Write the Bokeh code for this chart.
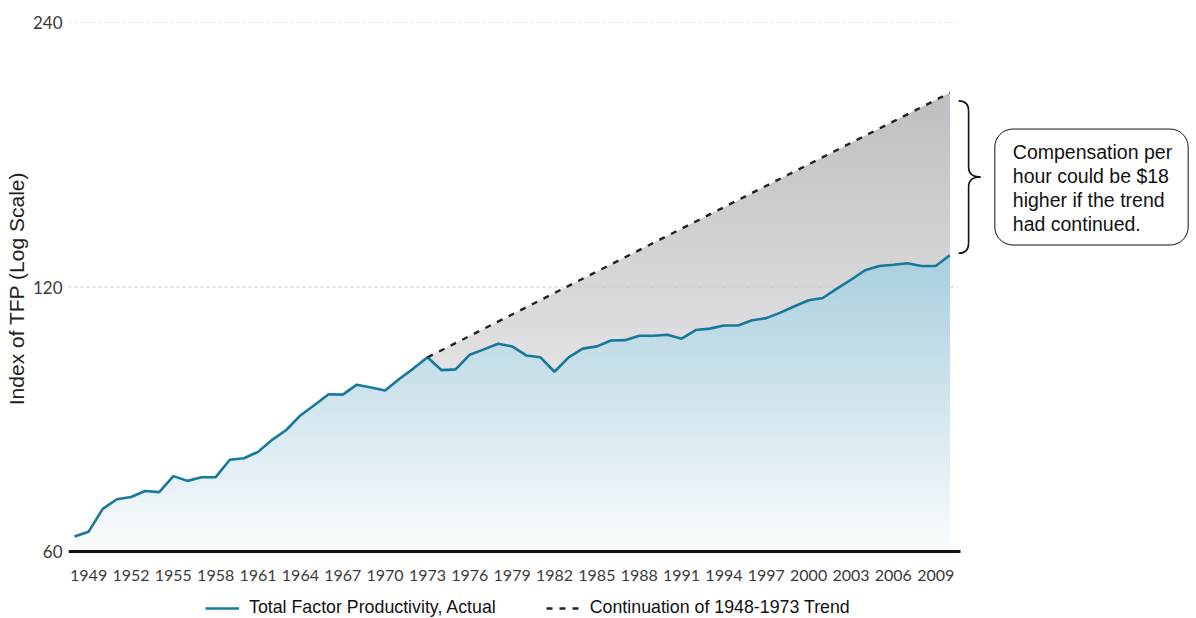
import numpy as np
from bokeh.plotting import figure
from bokeh.layouts import column
from bokeh.models import Range1d, FixedTicker, Legend, LegendItem, Label, PrintfTickFormatter
from bokeh.embed import file_html
from bokeh.resources import INLINE

# ---------------- data ----------------
years = list(range(1948, 2011))
tfp_actual = [62.4, 63.2, 67.1, 68.8, 69.2, 70.3, 70.1, 73.1, 72.2, 72.9,
              72.9, 76.3, 76.6, 77.9, 80.4, 82.5, 85.7, 88.1, 90.6, 90.5,
              92.9, 92.2, 91.5, 94.3, 96.9, 99.8, 96.5, 96.7, 100.5, 101.9,
              103.4, 102.7, 100.3, 99.8, 96.1, 99.8, 102.1, 102.7, 104.3, 104.4,
              105.6, 105.6, 105.9, 104.8, 107.2, 107.6, 108.5, 108.5, 110.0, 110.6,
              112.2, 114.1, 115.9, 116.6, 119.5, 122.3, 125.4, 126.8, 127.2, 127.7,
              126.8, 126.8, 130.4]
trend_years = [1973, 2010]
trend_values = [99.8, 199.6]
x_tick_years = list(range(1949, 2010, 3))
y_ticks = [60, 120, 240]
note_text = "Compensation per\nhour could be $18\nhigher if the trend\nhad continued."
label_actual = "Total Factor Productivity, Actual"
label_trend = "Continuation of 1948-1973 Trend"

# ---------------- layout constants ----------------
PX_PER_DOUBLING = 264.5
PX_PER_YEAR = 14.118
X_START = 1948 - 6 / PX_PER_YEAR
X_END = X_START + 1128 / PX_PER_YEAR
Y_START, Y_END = 60 * 2 ** (-3 / PX_PER_DOUBLING), 240
AXIS_END = 2010.76
GRID_END = 2010.55

ACTUAL_STYLE = dict(line_color="#16789a", line_width=2.6)
TREND_STYLE = dict(line_color="#222222", line_width=2.4, line_dash="6 7")


def shift(v, dpx):
    """move a log-scale value by dpx screen pixels (positive = down)"""
    return v * 2 ** (-dpx / PX_PER_DOUBLING)


def ypx(v):
    return 551 - PX_PER_DOUBLING * np.log2(v / 60.0)


def mix(c0, c1, t):
    t = min(max(t, 0.0), 1.0)
    return "#%02x%02x%02x" % tuple(int(round(a + (b - a) * t)) for a, b in zip(c0, c1))


BLUE_TOP, BLUE_BOT = (169, 207, 221), (250, 252, 253)
GREY_TOP, GREY_BOT = (191, 191, 195), (226, 226, 228)

p = figure(width=1196, height=589, y_axis_type="log",
           x_range=Range1d(X_START, X_END), y_range=Range1d(Y_START, Y_END),
           output_backend="svg", toolbar_location=None,
           min_border_left=68, min_border_right=0, min_border_top=22, min_border_bottom=35)
p.outline_line_color = None
p.xgrid.visible = False
p.ygrid.visible = False

# ---- grey gradient region (gap to trend) ----
g_tops = 60 * 2 ** np.linspace(np.log2(max(trend_values) / 60) + 0.01, 0.0, 110)
g_cols = [mix(GREY_TOP, GREY_BOT, (ypx(t) - 92) / (370 - 92)) for t in g_tops]
p.quad(left=[trend_years[0]] * len(g_tops), right=[trend_years[-1]] * len(g_tops),
       bottom=[Y_START] * len(g_tops), top=list(g_tops),
       fill_color=g_cols, line_color=None)
# mask above trend line (slightly wider than the grey block to hide seams)
mx0, mx1 = trend_years[0] - 0.5, trend_years[-1] + 0.4
p.patch(x=[mx0] + trend_years + [mx1, mx1, mx0],
        y=[trend_values[0]] + trend_values + [trend_values[-1], Y_END, Y_END],
        fill_color="white", line_color=None)

# ---- grid lines ----
p.segment(x0=[X_START] * 2, x1=[GRID_END] * 2, y0=[120, 240], y1=[120, 240],
          line_color="#c9c9c9", line_width=1, line_dash="3 3")

# ---- blue gradient under actual line ----
actual = np.array(tfp_actual)
b_tops = 60 * 2 ** np.linspace(np.log2(actual.max() / 60) + 0.01, 0.0, 110)
xs, ys, cols = [], [], []
for t in b_tops:
    xs.append(years + [years[-1], years[0]])
    ys.append(list(np.minimum(actual, t)) + [Y_START, Y_START])
    cols.append(mix(BLUE_TOP, BLUE_BOT, (ypx(t) - 254) / (551 - 254)))
p.patches(xs=xs, ys=ys, fill_color=cols, line_color=None)

# ---- lines ----
p.line(years, tfp_actual, **ACTUAL_STYLE)
p.line(trend_years, trend_values, **TREND_STYLE)

# x axis line
p.segment(x0=[X_START], x1=[AXIS_END], y0=[60], y1=[60], line_color="#111111", line_width=3)

# ---- brace ----
yT = shift(trend_values[-1], 8)
yB = shift(tfp_actual[-1], -2)
yM = np.sqrt(yT * yB)
xe, xs_, xt = 2010.62, 2011.33, 2012.18
p.quadratic(x0=[xe, xs_, xt, xs_], y0=[yT, shift(yM, -10), yM, shift(yB, -10)],
            x1=[xs_, xt, xs_, xe], y1=[shift(yT, 10), yM, shift(yM, 10), yB],
            cx=[xs_, xs_, xs_, xs_], cy=[yT, yM, yM, yB],
            line_color="#111111", line_width=1.6)
p.segment(x0=[xs_, xs_], x1=[xs_, xs_], y0=[shift(yT, 10), shift(yM, 10)],
          y1=[shift(yM, -10), shift(yB, -10)], line_color="#111111", line_width=1.6)

# ---- note box ----
pad = dict(left=18, right=16, top=12, bottom=10)
shadow = Label(x=2010, y=yM, x_offset=48, y_offset=45, text=note_text,
               text_font="Liberation Sans", text_font_size="19.5px", text_alpha=0,
               text_line_height=1.09,
               text_align="left", text_baseline="top",
               background_fill_color="#c4c4c4", border_line_color=None,
               border_radius=18, padding=pad)
note = Label(x=2010, y=yM, x_offset=45, y_offset=48, text=note_text,
             text_font="Liberation Sans", text_font_size="19.5px", text_color="#111111",
             text_line_height=1.09,
             text_align="left", text_baseline="top",
             background_fill_color="white", border_line_color="#111111",
             border_line_width=1, border_radius=18, padding=pad)
p.add_layout(shadow)
p.add_layout(note)

# ---- axes ----
p.xaxis.ticker = FixedTicker(ticks=x_tick_years)
p.xaxis.axis_line_color = None
p.xaxis.major_tick_line_color = None
p.xaxis.major_tick_out = 0
p.xaxis.minor_tick_out = 0
p.xaxis.minor_tick_line_color = None
p.xaxis.major_label_standoff = 15
p.xaxis.major_label_text_font = "Lato"
p.xaxis.major_label_text_font_size = "16px"
p.xaxis.major_label_text_color = "#3a3a3a"

p.yaxis.ticker = FixedTicker(ticks=y_ticks)
p.yaxis.formatter = PrintfTickFormatter(format="%d")
p.yaxis.axis_line_color = None
p.yaxis.major_tick_line_color = None
p.yaxis.major_tick_out = 0
p.yaxis.minor_tick_out = 0
p.yaxis.minor_tick_line_color = None
p.yaxis.major_label_standoff = 6
p.yaxis.major_label_text_font = "Lato"
p.yaxis.major_label_text_font_size = "17px"
p.yaxis.major_label_text_color = "#3a3a3a"
p.yaxis.axis_label = "Index of TFP (Log Scale)"
p.yaxis.axis_label_text_font = "Liberation Sans"
p.yaxis.axis_label_text_font_size = "21px"
p.yaxis.axis_label_text_font_style = "normal"
p.yaxis.axis_label_text_color = "#222222"
p.yaxis.axis_label_standoff = 2

# ---- legend strip below the chart ----
lg = figure(width=1196, height=29, x_range=Range1d(0, 1), y_range=Range1d(0, 1),
            output_backend="svg", toolbar_location=None,
            min_border_left=0, min_border_right=0, min_border_top=0, min_border_bottom=0)
lg.axis.visible = False
lg.grid.visible = False
lg.outline_line_color = None
lr_actual = lg.line([-10, -9], [-10, -9], **ACTUAL_STYLE)
lr_trend = lg.line([-10, -9], [-10, -9], **TREND_STYLE)
legend = Legend(items=[LegendItem(label=label_actual, renderers=[lr_actual]),
                       LegendItem(label=label_trend, renderers=[lr_trend])],
                orientation="horizontal", location=(137, 0),
                label_text_font="Liberation Sans", label_text_font_size="17.8px",
                label_text_color="#111111",
                glyph_width=34, glyph_height=18, label_standoff=10, spacing=50,
                border_line_color=None, background_fill_alpha=0, padding=0, margin=0)
lg.add_layout(legend, "center")

page = column(p, lg, spacing=0)
open("out.html", "w").write(file_html(page, INLINE))
